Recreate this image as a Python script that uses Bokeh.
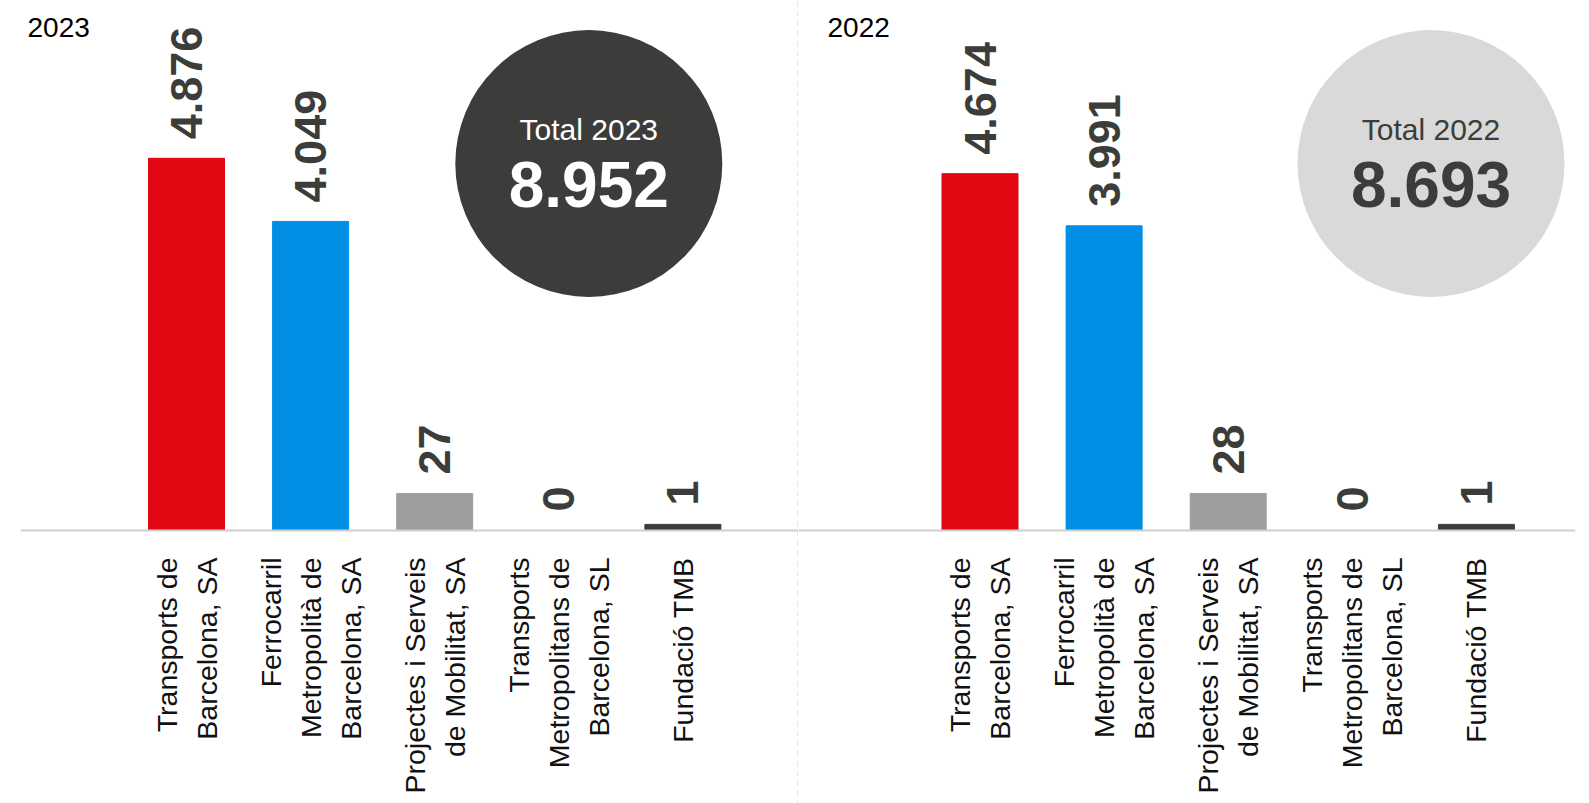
import numpy as np
from bokeh.plotting import figure
from bokeh.models import Range1d, Span, ColumnDataSource
from bokeh.layouts import row
from bokeh.embed import file_html
from bokeh.resources import INLINE
from bokeh.core.properties import value

# ---------------- data ----------------
categories = [
    "Transports de\nBarcelona, SA",
    "Ferrocarril\nMetropolità de\nBarcelona, SA",
    "Projectes i Serveis\nde Mobilitat, SA",
    "Transports\nMetropolitans de\nBarcelona, SL",
    "Fundació TMB",
]
bar_colors = ["#e30613", "#008fe5", "#9d9d9c", "#3c3c3b", "#3c3c3b"]
years = ["2023", "2022"]
values_2023 = [4876, 4049, 27, 0, 1]
values_2022 = [4674, 3991, 28, 0, 1]
# drawn bar heights (small bars are drawn enlarged in the original)
heights_2023 = [4876, 4049, 485, 0, 80]
heights_2022 = [4674, 3991, 485, 0, 80]
totals = [8952, 8693]

FONT = "Liberation Sans"
DARK = "#3c3c3b"


def fmt(v):
    return f"{v:,}".replace(",", ".")


def panel(year, vals, heights, total, width, border_l, border_r, page_left,
          center0_page, circle_page_x, year_page_x, circle_fill, total_color, separator):
    H = 803
    base_fy = 530          # baseline position from top of figure (px)
    UPP = 13.1             # data units per pixel
    STEP = 124.1           # px per category
    frame_w = width - border_l - border_r
    x0 = -((center0_page - page_left) - border_l) / STEP
    x1 = x0 + frame_w / STEP

    def fx2x(fx):
        return x0 + (fx - border_l) / STEP

    def fy2y(fy):
        return (base_fy - fy) * UPP

    p = figure(width=width, height=H, output_backend="svg", toolbar_location=None,
               x_range=Range1d(x0, x1), y_range=Range1d(fy2y(H), fy2y(0)),
               x_axis_location=None, y_axis_location=None,
               min_border_left=border_l, min_border_right=border_r,
               min_border_top=0, min_border_bottom=0)
    p.grid.visible = False
    p.outline_line_color = None
    p.background_fill_color = "white"
    p.border_fill_color = "white"

    src = ColumnDataSource(dict(
        x=list(range(len(categories))),
        h=heights,
        zero=[0] * len(categories),
        label=[fmt(v) for v in vals],
        cat=categories,
        color=bar_colors,
    ))

    p.vbar(x="x", top="h", width=76 / STEP, color="color", source=src)

    p.add_layout(Span(location=0, dimension="width", line_color="#cfcfcf", line_width=2))

    p.text(x="x", y="h", text="label", source=src, angle=np.pi / 2,
           text_align="left", text_baseline="middle", y_offset=-19,
           text_font=value(FONT), text_font_style="bold", text_font_size="45px",
           text_color=DARK)

    p.text(x="x", y="zero", text="cat", source=src, angle=np.pi / 2,
           text_align="right", text_baseline="middle", y_offset=27,
           text_font=value(FONT), text_font_size="28.5px", text_line_height=1.25,
           text_color="#111111")

    # year label
    p.text(x=[fx2x(year_page_x - page_left)], y=[fy2y(27)], text=[year],
           text_align="left", text_baseline="middle",
           text_font=value(FONT), text_font_size="28px", text_color="#000000")

    # total badge
    cx = fx2x(circle_page_x - page_left)
    p.scatter(x=[cx], y=[fy2y(163)], size=267, marker="circle",
              fill_color=circle_fill, line_color=None)
    p.text(x=[cx], y=[fy2y(128.5)], text=[f"Total {year}"],
           text_align="center", text_baseline="middle",
           text_font=value(FONT), text_font_size="30px", text_color=total_color)
    p.text(x=[cx], y=[fy2y(184)], text=[fmt(total)],
           text_align="center", text_baseline="middle",
           text_font=value(FONT), text_font_style="bold", text_font_size="64px",
           text_color=total_color)

    if separator:
        p.add_layout(Span(location=x1 - 0.5 / STEP, dimension="height",
                          line_color="#cccccc", line_width=1, line_dash="6 4"))
    return p


p1 = panel(years[0], values_2023, heights_2023, totals[0], 798, 20, 0, 0,
           186.0, 588.3, 27, DARK, "#ffffff", True)
p2 = panel(years[1], values_2022, heights_2022, totals[1], 791, 0, 14, 798,
           979.5, 1430.5, 827, "#d9d9d9", DARK, False)

layout = row(p1, p2, spacing=0)
open("out.html", "w").write(file_html(layout, INLINE))
